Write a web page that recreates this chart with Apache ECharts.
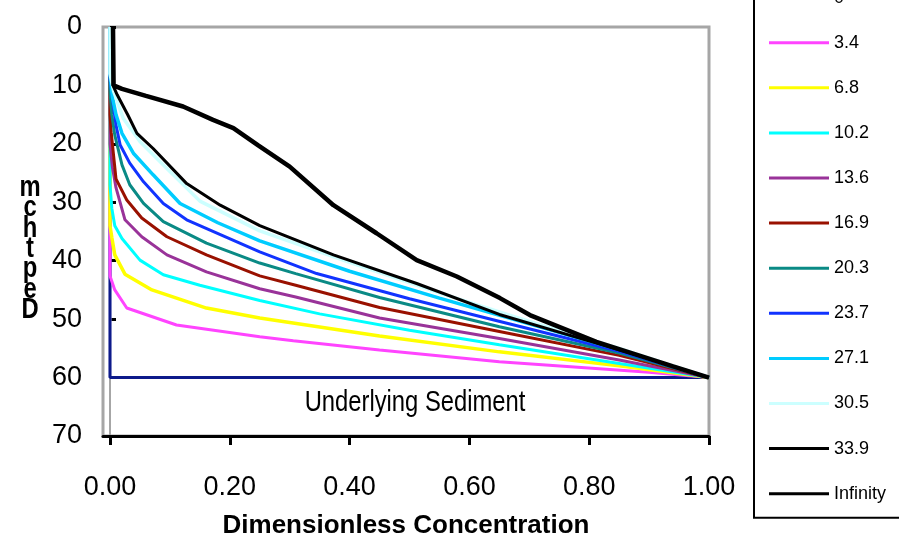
<!DOCTYPE html>
<html>
<head>
<meta charset="utf-8">
<script src="https://cdn.jsdelivr.net/npm/echarts@6/dist/echarts.min.js"></script>
<style>
html, body { margin: 0; padding: 0; background: #fff; }
#chart { width: 899px; height: 544px; }
</style>
</head>
<body>
<div id="chart"></div>
<script>
// legend labels (time), in drawing order
var timeLabels = ['0', '3.4', '6.8', '10.2', '13.6', '16.9', '20.3', '23.7', '27.1', '30.5', '33.9', 'Infinity'];
var xTicks = [0, 0.2, 0.4, 0.6, 0.8, 1];

// profiles as [concentration, depth]
var c0 = [[0, 0], [0, 60], [1, 60]];
var c3_4 = [[0, 0], [0, 42.6], [0.008, 45], [0.028, 48.1], [0.111, 51.0], [0.25, 53.0], [0.306, 53.7], [0.45, 55.3], [0.65, 57.3], [0.9, 59.1], [1, 60]];
var c6_8 = [[0, 0], [0, 34], [0.003, 36], [0.008, 39], [0.025, 42.3], [0.07, 45], [0.161, 48.1], [0.25, 49.8], [0.45, 52.9], [0.65, 55.6], [0.85, 58.0], [1, 60]];
var c10_2 = [[0, 0], [0, 27], [0.003, 31], [0.008, 34], [0.02, 36.2], [0.05, 39.9], [0.089, 42.4], [0.15, 44.2], [0.25, 46.8], [0.35, 49.1], [0.5, 51.9], [0.65, 54.4], [0.85, 57.6], [1, 60]];
var c13_6 = [[0, 0], [0, 20], [0.004, 24], [0.01, 27.5], [0.025, 33], [0.053, 35.9], [0.095, 39], [0.161, 41.9], [0.25, 44.8], [0.31, 46.2], [0.45, 49.8], [0.65, 53.3], [0.85, 57.0], [1, 60]];
var c16_9 = [[0, 0], [0, 15], [0.002, 18], [0.006, 22], [0.01, 26], [0.028, 29.6], [0.053, 32.7], [0.095, 35.9], [0.161, 39], [0.25, 42.6], [0.31, 44.2], [0.45, 48.0], [0.65, 52.1], [0.85, 56.2], [1, 60]];
var c20_3 = [[0, 0], [0, 11], [0.003, 15], [0.008, 18.5], [0.02, 23.6], [0.033, 27], [0.056, 30.2], [0.089, 33.3], [0.161, 37], [0.25, 40.4], [0.31, 42.2], [0.45, 46.3], [0.65, 51.3], [0.85, 55.8], [1, 60]];
var c23_7 = [[0, 0], [0, 9], [0.005, 13], [0.01, 16.8], [0.017, 20.2], [0.033, 23.3], [0.056, 26.5], [0.089, 30.2], [0.128, 33], [0.25, 38.5], [0.345, 42.2], [0.5, 46.5], [0.651, 50.4], [0.85, 55.5], [1, 60]];
var c27_1 = [[0, 0], [0, 8], [0.004, 12], [0.01, 15], [0.02, 18.2], [0.039, 21.6], [0.072, 25.3], [0.117, 30.2], [0.18, 33.5], [0.25, 36.6], [0.4, 41.8], [0.55, 46.4], [0.7, 50.8], [0.85, 55.2], [1, 60]];
var c30_5 = [[0, 0], [0, 8], [0.006, 11], [0.022, 15.6], [0.05, 19.6], [0.095, 24.2], [0.15, 29.8], [0.25, 34.9], [0.4, 40.3], [0.55, 45.5], [0.7, 50.4], [0.85, 55.0], [1, 60]];
var c33_9 = [[0.005, 0], [0.005, 10], [0.012, 11.6], [0.03, 15.1], [0.045, 18.2], [0.072, 20.8], [0.128, 26.8], [0.184, 30.5], [0.25, 34], [0.373, 39], [0.512, 43.9], [0.65, 49.2], [0.812, 54.1], [0.9, 56.8], [1, 60]];
var cInf = [[0.005, 0], [0.006, 10], [0.02, 10.6], [0.06, 11.8], [0.122, 13.6], [0.172, 15.9], [0.206, 17.3], [0.248, 20.3], [0.3, 23.9], [0.373, 30.5], [0.445, 35.3], [0.512, 39.9], [0.579, 42.7], [0.651, 46.4], [0.701, 49.3], [0.812, 53.9], [0.94, 58.1], [1, 60]];
var boundary = [[0, 0], [0, 60], [1, 60]];

var profiles = [c0, c3_4, c6_8, c10_2, c13_6, c16_9, c20_3, c23_7, c27_1, c30_5, c33_9, cInf];
var colors = ['#dcdcf5', '#ff44ff', '#ffff00', '#00ffff', '#993399', '#991100', '#0a8a85', '#1133ff', '#00ccff', '#ccffff', '#000000', '#000000'];
var widths = [3, 3, 3.5, 3, 3, 3, 3, 3, 3.5, 3.5, 3, 4.5];

var font = "'Liberation Sans', Arial, sans-serif";

var chart = echarts.init(document.getElementById('chart'));

var series = [];
profiles.forEach(function(p, i) {
	series.push({
		name: timeLabels[i],
		type: 'line',
		data: p,
		symbol: 'none',
		lineStyle: { color: colors[i], width: widths[i] },
		itemStyle: { color: colors[i] },
		z: i === 0 ? 1 : 3 + i
	});
});
// bottom boundary of the water column
series.push({
	name: 'boundary',
	type: 'line',
	data: boundary,
	symbol: 'none',
	lineStyle: { color: '#0d1a8a', width: 3 },
	itemStyle: { color: '#0d1a8a' },
	z: 2
});

var option = {
	animation: false,
	backgroundColor: '#fff',
	grid: {
		left: 103, right: 190, top: 27, bottom: 108,
		show: true, borderColor: '#a6a6a6', borderWidth: 3, backgroundColor: '#fff'
	},
	legend: {
		data: timeLabels,
		orient: 'vertical',
		left: 754,
		top: -20,
		padding: [7.6, 40, 14, 15],
		itemWidth: 60,
		itemHeight: 3,
		itemGap: 25.1,
		icon: 'rect',
		borderColor: '#000',
		borderWidth: 2,
		selectedMode: false,
		textStyle: { fontFamily: font, fontSize: 18, lineHeight: 20, color: '#000' }
	},
	xAxis: {
		type: 'value',
		min: -0.011686,
		max: 1,
		name: 'Dimensionless Concentration',
		nameLocation: 'middle',
		nameGap: 77,
		nameTextStyle: { fontFamily: font, fontSize: 26, fontWeight: 'bold', color: '#000' },
		axisLine: { show: true, onZero: false, lineStyle: { color: '#000', width: 3 } },
		axisTick: { show: true, length: 9, lineStyle: { color: '#000', width: 3 }, customValues: xTicks },
		axisLabel: {
			customValues: xTicks,
			margin: 38,
			fontFamily: font, fontSize: 27, color: '#000',
			formatter: function(v) { return v.toFixed(2); }
		},
		splitLine: { show: false }
	},
	yAxis: {
		type: 'value',
		inverse: true,
		min: 0,
		max: 70,
		interval: 10,
		axisLine: { show: true, lineStyle: { color: '#a6a6a6', width: 2 } },
		axisTick: { show: true, inside: true, length: 6, lineStyle: { color: '#000', width: 3 } },
		axisLabel: { margin: 21, fontFamily: font, fontSize: 27, color: '#000' },
		splitLine: { show: false }
	},
	graphic: [{
		type: 'text',
		x: 30,
		y: 178,
		scaleX: 0.82,
		style: {
			text: 'm\nc\nh\nt\np\ne\nD',
			textAlign: 'center',
			textVerticalAlign: 'top',
			fontFamily: font, fontSize: 29, fontWeight: 'bold', lineHeight: 20.3,
			fill: '#000'
		}
	}, {
		type: 'text',
		x: 415,
		y: 403,
		scaleX: 0.82,
		style: {
			text: 'Underlying Sediment',
			textAlign: 'center',
			textVerticalAlign: 'middle',
			fontFamily: font, fontSize: 29,
			fill: '#000'
		}
	}],
	series: series
};

chart.setOption(option);
</script>
</body>
</html>
